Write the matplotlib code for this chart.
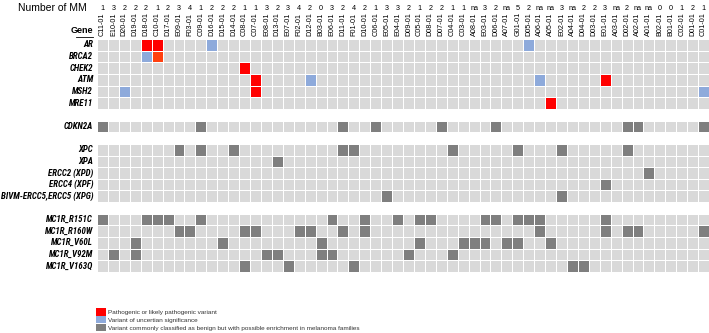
import numpy as np
import matplotlib
matplotlib.use("Agg")
import matplotlib.pyplot as plt
from matplotlib.colors import ListedColormap
from matplotlib.patches import Patch
from matplotlib import font_manager

plt.rcParams['font.family'] = ['Liberation Sans', 'DejaVu Sans']

samples = ["C11-01", "E10-01", "D20-01", "D19-01", "D18-01", "C10-01", "D17-01", "E09-01",
           "F03-01", "C09-01", "D16-01", "D15-01", "D14-01", "C08-01", "C07-01", "E08-01",
           "D13-01", "E07-01", "F02-01", "D12-01", "B03-01", "E06-01", "D11-01", "F01-01",
           "D10-01", "C06-01", "E05-01", "E04-01", "D09-01", "C05-01", "D08-01", "D07-01",
           "C04-01", "C03-01", "A08-01", "E03-01", "D06-01", "A07-01", "G01-01", "D05-01",
           "A06-01", "A05-01", "E02-01", "A04-01", "D04-01", "D03-01", "E01-01", "A03-01",
           "D02-01", "A02-01", "A01-01", "B02-01", "B01-01", "C02-01", "D01-01", "C01-01"]
n_mm = ["1", "3", "2", "2", "2", "1", "2", "3", "4", "1", "2", "2", "2", "1", "1", "3",
        "2", "3", "4", "2", "0", "3", "2", "4", "2", "1", "3", "3", "2", "1", "2", "2",
        "1", "1", "na", "3", "2", "na", "5", "2", "na", "na", "3", "na", "2", "2", "3", "na",
        "2", "na", "na", "0", "0", "1", "2", "1"]

# gene rows, None = blank separator row
genes = ["AR", "BRCA2", "CHEK2", "ATM", "MSH2", "MRE11", None,
         "CDKN2A", None,
         "XPC", "XPA", "ERCC2 (XPD)", "ERCC4 (XPF)", "BIVM-ERCC5,ERCC5 (XPG)", None,
         "MC1R_R151C", "MC1R_R160W", "MC1R_V60L", "MC1R_V92M", "MC1R_V163Q"]

pathogenic = {"AR": ["D18-01", "C10-01"], "BRCA2": ["C10-01"], "CHEK2": ["C08-01"],
              "ATM": ["C07-01", "E01-01"], "MSH2": ["C07-01"], "MRE11": ["A05-01"]}
uncertain = {"AR": ["D16-01", "D05-01"], "BRCA2": ["D18-01"], "ATM": ["D12-01", "A06-01"],
             "MSH2": ["D20-01", "C01-01"]}
benign = {
    "CDKN2A": ["C11-01", "C09-01", "D11-01", "C06-01", "D07-01", "D06-01", "D02-01", "A02-01", "C01-01"],
    "XPC": ["E09-01", "C09-01", "D14-01", "D11-01", "F01-01", "C04-01", "G01-01", "E02-01", "D02-01"],
    "XPA": ["D13-01"],
    "ERCC2 (XPD)": ["A01-01"],
    "ERCC4 (XPF)": ["E01-01"],
    "BIVM-ERCC5,ERCC5 (XPG)": ["E05-01", "E02-01"],
    "MC1R_R151C": ["C11-01", "D18-01", "C10-01", "D17-01", "C09-01", "E06-01", "D10-01", "E04-01",
                   "C05-01", "D08-01", "E03-01", "D06-01", "G01-01", "D05-01", "A06-01", "E01-01"],
    "MC1R_R160W": ["E09-01", "F03-01", "C08-01", "C07-01", "F02-01", "D12-01", "D11-01", "D10-01",
                   "A06-01", "E01-01", "D02-01", "A02-01", "C01-01"],
    "MC1R_V60L": ["D19-01", "D15-01", "B03-01", "C05-01", "C03-01", "A08-01", "E03-01", "A07-01",
                  "G01-01", "A05-01"],
    "MC1R_V92M": ["E10-01", "D19-01", "E08-01", "D13-01", "B03-01", "E06-01", "D09-01", "C04-01"],
    "MC1R_V163Q": ["C08-01", "E07-01", "F01-01", "A04-01", "D04-01"],
}
# one pathogenic call drawn in a more orange red
pathogenic_alt = {"BRCA2": ["C10-01"]}

# codes: 0 white gap, 1 no variant, 2 pathogenic, 3 uncertain, 4 benign, 5 orange red
cmap = ListedColormap(["#ffffff", "#d9d9d9", "#ff0000", "#8eaadb", "#7f7f7f", "#ff4010"])

grid = np.zeros((len(genes), len(samples)))
for r, g in enumerate(genes):
    if g is None:
        continue
    grid[r, :] = 1
    for code, table in [(4, benign), (3, uncertain), (2, pathogenic), (5, pathogenic_alt)]:
        for s in table.get(g, []):
            grid[r, samples.index(s)] = code

# narrow face for the gene names if one is there
names = {f.name for f in font_manager.fontManager.ttflist}
gene_font = "Liberation Sans"
for cand in ["Liberation Sans Narrow", "DejaVu Sans Condensed", "Roboto Condensed", "Open Sans Condensed"]:
    if cand in names:
        gene_font = cand
        break

W, H = 709, 333
fig = plt.figure(figsize=(W / 100, H / 100), dpi=100)
ax = fig.add_axes([97 / W, (H - 272) / H, (W - 97) / W, (272 - 39) / H])
ax.pcolormesh(grid, cmap=cmap, vmin=-0.5, vmax=5.5, edgecolors="white", linewidth=0.7)
ax.set_xlim(0, len(samples))
ax.set_ylim(len(genes), 0)
ax.axis("off")

gene_texts = []
for r, g in enumerate(genes):
    if g is None:
        continue
    t = ax.text(-0.35, r + 0.5, g, ha="right", va="center", fontsize=6.6,
                fontweight="bold", fontstyle="italic", family=gene_font)
    gene_texts.append(t)

# shrink the gene names so the longest one fits left of the grid
renderer = fig.canvas.get_renderer()
widest = max(t.get_window_extent(renderer).width for t in gene_texts)
if widest > 92:
    for t in gene_texts:
        t.set_fontsize(6.6 * 92 / widest)

for c, (s, n) in enumerate(zip(samples, n_mm)):
    ax.text(c + 0.5, -0.25, s, rotation=90, ha="center", va="bottom", fontsize=5.2)
    ax.text(c + 0.5, -2.65, n, ha="center", va="center", fontsize=5.2)

ax.text(-0.9, -2.65, "Number of MM", ha="right", va="center", fontsize=7.5)
ax.text(-0.35, -0.35, "Gene", ha="right", va="bottom", fontsize=6.5, fontweight="bold")
ax.plot([-1.9, -0.35], [-0.2, -0.2], color="black", lw=0.6, clip_on=False)

handles = [Patch(facecolor="#ff0000"), Patch(facecolor="#8eaadb"), Patch(facecolor="#7f7f7f")]
labels = ["Pathogenic or likely pathogenic variant",
          "Variant of uncertian significance",
          "Variant commonly classified as benign but with possible enrichment in melanoma families"]
fig.legend(handles, labels, loc="lower left", bbox_to_anchor=(96 / W, 2 / H), frameon=False,
           fontsize=4.6, handlelength=1.55, handleheight=1.35, handletextpad=0.25,
           labelspacing=0.08, borderpad=0, borderaxespad=0, labelcolor="#333333")

fig.savefig("out.png", dpi=100)
